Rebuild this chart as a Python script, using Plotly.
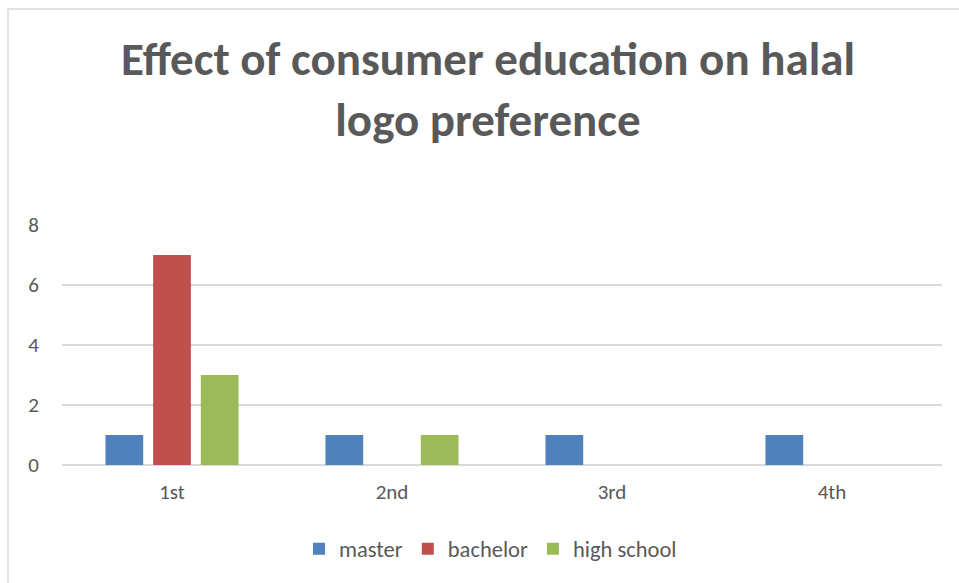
import plotly.graph_objects as go

# Ranking position given to the halal logo, grouped by education level
positions = ["1st", "2nd", "3rd", "4th"]
master = [1, 1, 1, 1]
bachelor = [7, 0, 0, 0]
high_school = [3, 1, 0, 0]

series = [
    ("master", master, "#4F81BD"),
    ("bachelor", bachelor, "#C0504D"),
    ("high school", high_school, "#9BBB59"),
]

W, H = 959, 583
ML, MR, MT, MB = 62, 17, 225, 118
plot_w = W - ML - MR
plot_h = H - MT - MB

TEXT = "#595959"
GRID = "#D9D9D9"
FONT = "Carlito, Lato, sans-serif"

fig = go.Figure()
for name, vals, color in series:
    fig.add_trace(go.Bar(name=name, x=positions, y=vals,
                         marker=dict(color=color, line=dict(width=0))))

# light frame around the chart (top and left edges fall inside the page)
fig.add_shape(type="rect", xref="paper", yref="paper",
              x0=(8 - ML) / plot_w, x1=1.2,
              y0=-1.0, y1=(H - MB - 9) / plot_h,
              line=dict(color=GRID, width=1.5), layer="below")

fig.update_layout(
    width=W, height=H,
    margin=dict(l=ML, r=MR, t=MT, b=MB),
    paper_bgcolor="white", plot_bgcolor="white",
    font=dict(family=FONT, color=TEXT, size=21),
    title=dict(text="<b>Effect of consumer education on halal<br>logo preference</b>",
               x=(488 - ML) / plot_w, xref="paper", xanchor="center",
               y=1 - 75 / H, yref="container", yanchor="middle",
               font=dict(family=FONT, size=47, color=TEXT)),
    barmode="group", bargap=0.35, bargroupgap=0.208,
    showlegend=True,
    legend=dict(orientation="h", x=(299 - ML) / plot_w, xanchor="left",
                y=-(549 - (H - MB)) / plot_h, yanchor="middle",
                font=dict(size=22.5, color=TEXT), bgcolor="rgba(0,0,0,0)"),
    xaxis=dict(showgrid=False, showline=False, ticks="", ticklabelstandoff=12,
               tickfont=dict(size=21, color=TEXT)),
    yaxis=dict(range=[0, 8], dtick=2, showgrid=True, gridcolor=GRID, gridwidth=1.5,
               zeroline=True, zerolinecolor=GRID, zerolinewidth=1.5,
               showline=False, ticks="", ticklabelstandoff=22,
               tickfont=dict(size=21, color=TEXT)),
)

fig.write_html("out.html")
